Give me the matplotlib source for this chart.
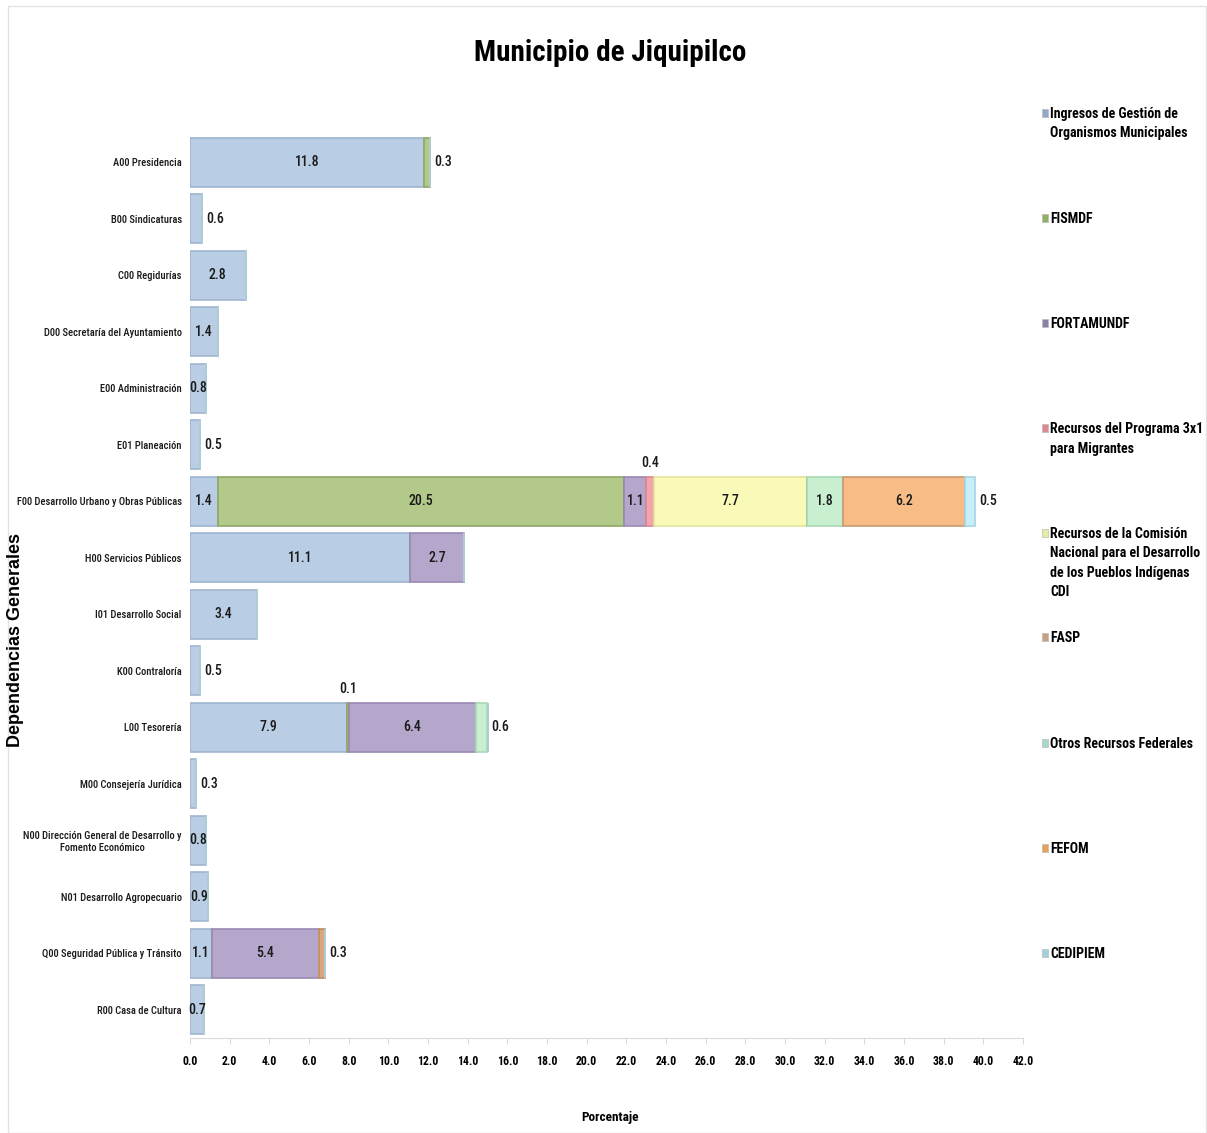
import matplotlib
matplotlib.use("Agg")
import matplotlib.pyplot as plt
from matplotlib.patches import Rectangle
import numpy as np

plt.rcParams['font.family'] = ['Roboto Condensed', 'Liberation Sans', 'DejaVu Sans']

categories = ["A00 Presidencia", "B00 Sindicaturas", "C00 Regidurías",
              "D00 Secretaría del Ayuntamiento", "E00 Administración", "E01 Planeación",
              "F00 Desarrollo Urbano y Obras Públicas", "H00 Servicios Públicos",
              "I01 Desarrollo Social", "K00 Contraloría", "L00 Tesorería",
              "M00 Consejería Jurídica",
              "N00 Dirección General de Desarrollo y\nFomento Económico",
              "N01 Desarrollo Agropecuario", "Q00 Seguridad Pública y Tránsito",
              "R00 Casa de Cultura"]

series_names = ["Ingresos de Gestión de\nOrganismos Municipales", "FISMDF", "FORTAMUNDF",
                "Recursos del Programa 3x1\npara Migrantes",
                "Recursos de la Comisión\nNacional para el Desarrollo\nde los Pueblos Indígenas\nCDI",
                "FASP", "Otros Recursos Federales", "FEFOM", "CEDIPIEM"]

ingresos   = [11.8, 0.6, 2.8, 1.4, 0.8, 0.5, 1.4, 11.1, 3.4, 0.5, 7.9, 0.3, 0.8, 0.9, 1.1, 0.7]
fismdf     = [0.3, 0, 0, 0, 0, 0, 20.5, 0, 0, 0, 0.1, 0, 0, 0, 0, 0]
fortamundf = [0, 0, 0, 0, 0, 0, 1.1, 2.7, 0, 0, 6.4, 0, 0, 0, 5.4, 0]
prog3x1    = [0, 0, 0, 0, 0, 0, 0.4, 0, 0, 0, 0, 0, 0, 0, 0, 0]
cdi        = [0, 0, 0, 0, 0, 0, 7.7, 0, 0, 0, 0, 0, 0, 0, 0, 0]
fasp       = [0, 0, 0, 0, 0, 0, 0, 0, 0, 0, 0, 0, 0, 0, 0.3, 0]
otros      = [0, 0, 0, 0, 0, 0, 1.8, 0, 0, 0, 0.6, 0, 0, 0, 0, 0]
fefom      = [0, 0, 0, 0, 0, 0, 6.2, 0, 0, 0, 0, 0, 0, 0, 0, 0]
cedipiem   = [0, 0, 0, 0, 0, 0, 0.5, 0, 0, 0, 0, 0, 0, 0, 0, 0]

xticks = np.arange(0, 42.1, 2.0)

series = [ingresos, fismdf, fortamundf, prog3x1, cdi, fasp, otros, fefom, cedipiem]
colors = ["#b9cde4", "#b2c98a", "#b5a6cb", "#f2a3ab", "#fafab8", "#d9a680",
          "#c8f0d0", "#f8bd86", "#c8eef8"]
edges = ["#9fb5d0", "#8fa868", "#9a8ab3", "#d98890", "#e3e3a0", "#c08a60",
         "#a8d8b4", "#c89a70", "#a8d4e4"]
legend_colors = ["#8fa8cc", "#8fb060", "#8c80a8", "#e08890", "#e8eea0", "#c8a080",
                 "#a8d8c8", "#e8a058", "#a0d0dc"]

W, H = 1207, 1133
fig = plt.figure(figsize=(W / 100, H / 100), dpi=100)
fig.patch.set_facecolor("white")
fig.patches.append(Rectangle((8 / W, 0), 1 - 9 / W, 1 - 6 / H, transform=fig.transFigure,
                             fill=False, edgecolor="#e2e2e2", linewidth=1))

ax = fig.add_axes([190 / W, 1 - 1038 / H, (1023 - 190) / W, (1038 - 134) / H])
y = np.arange(len(categories))
left = np.zeros(len(categories))
nonzero_last = []
for r in range(len(categories)):
    last = max(i for i, s in enumerate(series) if s[r] > 0)
    nonzero_last.append(last)

lab_kw = dict(fontsize=10, fontweight="medium", color="#1a1a1a")
for i, (vals, c, ec) in enumerate(zip(series, colors, edges)):
    vals = np.array(vals, dtype=float)
    ax.barh(y, vals, left=left, height=0.86, color=c, edgecolor=ec, linewidth=1.2)
    for r, v in enumerate(vals):
        if v <= 0:
            continue
        x0 = left[r]
        if v < 0.7:
            if i == nonzero_last[r]:
                ax.text(x0 + v + 0.2, r, f"{v:.1f}", ha="left", va="center", **lab_kw)
            else:
                ax.text(x0 + v / 2, r - 0.55, f"{v:.1f}", ha="center", va="bottom", **lab_kw)
        else:
            ax.text(x0 + v / 2, r, f"{v:.1f}", ha="center", va="center", **lab_kw)
    left = left + vals

ax.set_ylim(len(categories) - 0.5, -0.5)
ax.set_xlim(0, 42)
ax.set_yticks(y)
ax.set_yticklabels(categories, fontsize=7.6, fontweight="medium", color="#1a1a1a")
ax.set_xticks(xticks)
ax.set_xticklabels([f"{t:.1f}" for t in xticks], fontsize=8.5, fontweight="bold")
ax.tick_params(axis="y", length=0, pad=6)
ax.tick_params(axis="x", length=4, color="#d9d9d9", pad=8)
for sp in ["top", "right", "left"]:
    ax.spines[sp].set_visible(False)
ax.spines["bottom"].set_color("#d9d9d9")
for lab in ax.get_yticklabels():
    lab.set_multialignment("center")

fig.text(610 / W, 1 - 53 / H, "Municipio de Jiquipilco", ha="center", va="center",
         fontsize=21, fontweight="bold")
fig.text(610 / W, 1 - 1118 / H, "Porcentaje", ha="center", va="center",
         fontsize=9.5, fontweight="bold")
fig.text(16 / W, 1 - 640 / H, "Dependencias Generales", rotation=90, ha="center", va="center",
         fontsize=13, fontweight="bold", family=["Liberation Sans", "DejaVu Sans"])

leg_y = [113, 218, 323, 428, 533, 637, 743, 848, 953]
for name, lc, yy in zip(series_names, legend_colors, leg_y):
    fig.patches.append(Rectangle((1042 / W, 1 - (yy + 4) / H), 6 / W, 8 / H,
                                 transform=fig.transFigure, facecolor=lc,
                                 edgecolor="#bbbbbb", linewidth=0.5))
    fig.text(1050 / W, 1 - (yy - 6) / H, name, ha="left", va="top", fontsize=10,
             fontweight="bold", linespacing=1.5)

fig.savefig("out.png", dpi=100)
